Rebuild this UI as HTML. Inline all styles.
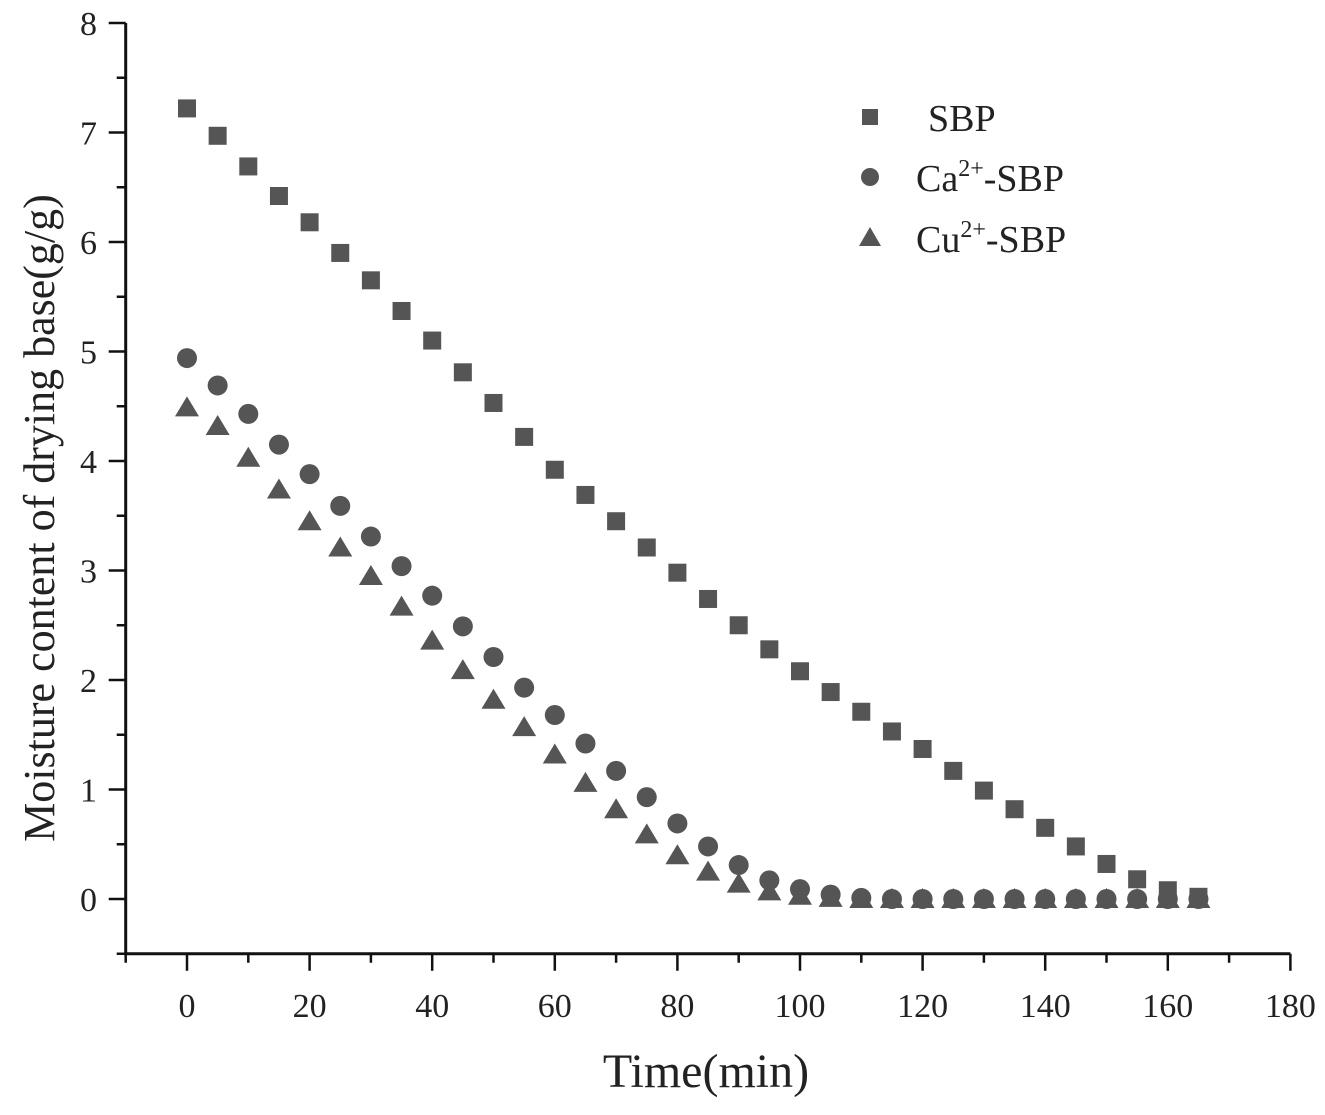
<!DOCTYPE html>
<html><head><meta charset="utf-8"><style>
html,body{margin:0;padding:0;background:#fff;}
svg text{font-family:"Liberation Serif",serif;fill:#222;}
</style></head><body>
<svg id="chart" width="1325" height="1110" viewBox="0 0 1325 1110" xmlns="http://www.w3.org/2000/svg">
<g id="axes"></g>
<g id="marks"></g>
<g id="legend">
  <rect x="862" y="109" width="16" height="16" fill="#555"/>
  <text x="928" y="131" font-size="38">SBP</text>
  <circle cx="870" cy="177" r="9" fill="#555"/>
  <text x="916" y="191" font-size="38">Ca<tspan dy="-15" font-size="24">2+</tspan><tspan dy="15">-SBP</tspan></text>
  <polygon points="870,227 881,246 859,246" fill="#555"/>
  <text x="916" y="252" font-size="38">Cu<tspan dy="-15" font-size="24">2+</tspan><tspan dy="15">-SBP</tspan></text>
</g>
<text x="706" y="1087" font-size="48" text-anchor="middle">Time(min)</text>
<text transform="translate(54,518) rotate(-90)" font-size="44" text-anchor="middle">Moisture content of drying base(g/g)</text>
</svg>
<script>
const times=[0,5,10,15,20,25,30,35,40,45,50,55,60,65,70,75,80,85,90,95,100,105,110,115,120,125,130,135,140,145,150,155,160,165];
const sbp=[7.22,6.97,6.69,6.42,6.18,5.90,5.65,5.37,5.10,4.81,4.53,4.22,3.92,3.69,3.45,3.21,2.98,2.74,2.50,2.28,2.08,1.89,1.71,1.53,1.37,1.17,0.99,0.82,0.65,0.48,0.32,0.18,0.08,0.02];
const ca=[4.94,4.69,4.43,4.15,3.88,3.59,3.31,3.04,2.77,2.49,2.21,1.93,1.68,1.42,1.17,0.93,0.69,0.48,0.31,0.17,0.09,0.04,0.01,0,0,0,0,0,0,0,0,0,0,0];
const cu=[4.49,4.32,4.03,3.74,3.45,3.21,2.95,2.67,2.36,2.09,1.82,1.57,1.32,1.06,0.82,0.59,0.40,0.25,0.14,0.07,0.03,0.01,0,0,0,0,0,0,0,0,0,0,0,0];
const xTicks=[0,20,40,60,80,100,120,140,160,180];
const yTicks=[0,1,2,3,4,5,6,7,8];

const X0=187,XS=6.13,Y0=899,YS=109.5;
function sx(v){return X0+v*XS;}
function sy(v){return Y0-v*YS;}
const NS='http://www.w3.org/2000/svg';
function mk(tag,attrs,parent){const e=document.createElementNS(NS,tag);for(const k in attrs)e.setAttribute(k,attrs[k]);parent.appendChild(e);return e;}
const axes=document.getElementById('axes'),marks=document.getElementById('marks');
const xl=sx(-10),xr=sx(180),yb=sy(-0.5),yt=sy(8);
let l=mk('line',{x1:xl,y1:yb,x2:xr,y2:yb,stroke:'#111','stroke-width':3},axes);


l=mk('line',{x1:xl,y1:yb+1.5,x2:xl,y2:yt,stroke:'#111','stroke-width':3},axes);


for(let v=-10;v<=180;v+=10){
  const major=v%20===0;
  const t=mk('line',{x1:sx(v),y1:yb,x2:sx(v),y2:yb+(major?17:9),stroke:'#111','stroke-width':2.5},axes);
  
  
}
xTicks.forEach(v=>{
  const t=mk('text',{x:sx(v),y:1017,'font-size':34,'text-anchor':'middle'},axes);
  t.textContent=v;
  
  
});
for(let v=-0.5;v<=8;v+=0.5){
  const major=Number.isInteger(v);
  const t=mk('line',{x1:xl,y1:sy(v),x2:xl-(major?17:9),y2:sy(v),stroke:'#111','stroke-width':2.5},axes);
  
  
}
yTicks.forEach(v=>{
  const t=mk('text',{x:97,y:sy(v)+12,'font-size':34,'text-anchor':'end'},axes);
  t.textContent=v;
  
  
});
times.forEach((t,i)=>{
  const a=mk('rect',{x:sx(t)-9,y:sy(sbp[i])-9,width:18,height:18,fill:'#555'},marks);
  
  
});
times.forEach((t,i)=>{
  const c=mk('circle',{cx:sx(t),cy:sy(ca[i]),r:10,fill:'#555'},marks);
  
  
});
times.forEach((t,i)=>{
  const x=sx(t),y=sy(cu[i]);
  const p=mk('polygon',{points:`${x},${y-11} ${x+12},${y+9} ${x-12},${y+9}`,fill:'#555'},marks);
  
  
});
</script>
</body></html>
